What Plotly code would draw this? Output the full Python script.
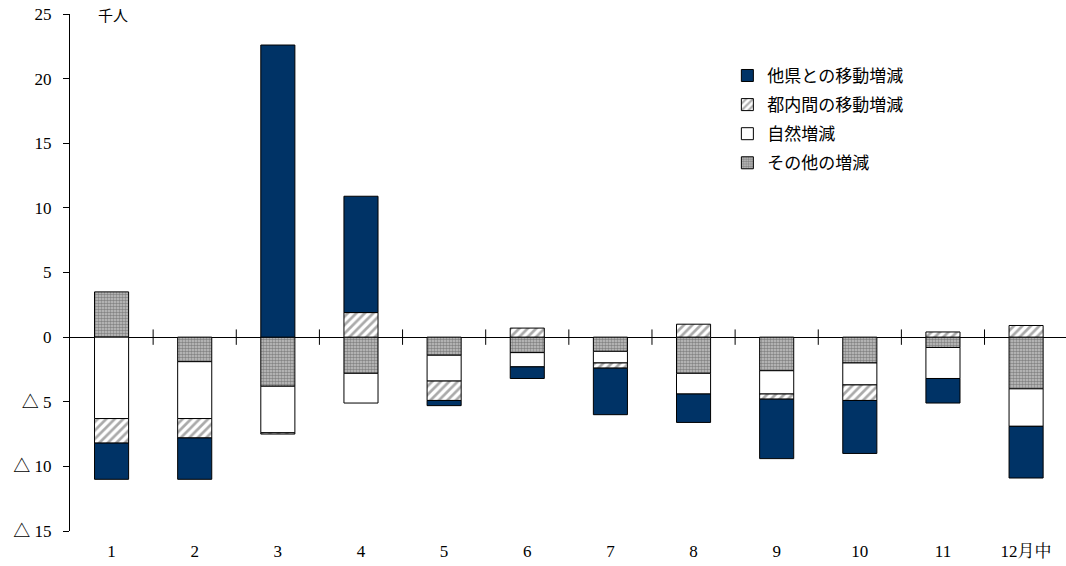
import plotly.graph_objects as go

# 月別人口増減の内訳（千人）
months = [1, 2, 3, 4, 5, 6, 7, 8, 9, 10, 11, 12]
month_labels = ["1", "2", "3", "4", "5", "6", "7", "8", "9", "10", "11", "12月中"]

other_pref = [-2.8, -3.2, 22.6, 9.0, -0.4, -0.9, -3.6, -2.2, -4.6, -4.1, -1.9, -4.0]   # 他県との移動増減
intra_tokyo = [-1.9, -1.5, -0.1, 1.9, -1.5, 0.7, -0.4, 1.0, -0.4, -1.2, 0.4, 0.9]     # 都内間の移動増減
natural = [-6.3, -4.4, -3.6, -2.3, -2.0, -1.1, -0.9, -1.6, -1.8, -1.7, -2.4, -2.9]     # 自然増減
others = [3.5, -1.9, -3.8, -2.8, -1.4, -1.2, -1.1, -2.8, -2.6, -2.0, -0.8, -4.0]       # その他の増減

y_ticks = [-15, -10, -5, 0, 5, 10, 15, 20, 25]
y_ticktext = [("△ " + str(-v)) if v < 0 else str(v) for v in y_ticks]

SERIF = "Liberation Serif, 'Noto Serif CJK JP', 'Noto Sans CJK JP', serif"
JP = "'Noto Sans CJK JP', sans-serif"
BAR_W = 0.41
OUTLINE = dict(color="black", width=1)

fig = go.Figure()

fig.add_trace(go.Bar(
    x=months, y=others, name="その他の増減", width=BAR_W,
    legendgroup="d", legendrank=4,
    marker=dict(color="#9a9a9a", line=OUTLINE,
                pattern=dict(shape=".", fgcolor="#444444", bgcolor="#c4c4c4",
                             size=3, solidity=0.55)),
))
fig.add_trace(go.Bar(
    x=months, y=natural, name="自然増減", width=BAR_W,
    legendgroup="c", legendrank=3,
    marker=dict(color="white", line=OUTLINE),
))
fig.add_trace(go.Bar(
    x=months, y=intra_tokyo, name="都内間の移動増減", width=BAR_W,
    legendgroup="b", legendrank=2,
    marker=dict(color="white", line=OUTLINE,
                pattern=dict(shape="/", fgcolor="#555555", bgcolor="white",
                             size=6, solidity=0.45)),
))
fig.add_trace(go.Bar(
    x=months, y=other_pref, name="他県との移動増減", width=BAR_W,
    legendgroup="a", legendrank=1,
    marker=dict(color="#003366", line=OUTLINE),
))

# 月の区切り目盛（ゼロ線上）
boundaries = [m + 0.5 for m in months[:-1]]
fig.add_trace(go.Scatter(
    x=boundaries, y=[0] * len(boundaries), mode="markers",
    marker=dict(symbol="line-ns-open", size=11, color="black",
                line=dict(color="black", width=1)),
    showlegend=False, hoverinfo="skip",
))

fig.update_layout(
    width=1066, height=566,
    margin=dict(l=70, r=0, t=14, b=35),
    paper_bgcolor="white", plot_bgcolor="white",
    barmode="relative",
    showlegend=True,
    legend=dict(x=0.66, y=0.915, xanchor="left", yanchor="top",
                traceorder="grouped", bgcolor="rgba(0,0,0,0)",
                font=dict(family=JP, size=17, color="black"),
                itemwidth=30, tracegroupgap=4),
    font=dict(family=SERIF, size=16, color="black"),
)

fig.update_xaxes(
    range=[0.5, 12.48], tickvals=months, ticktext=month_labels,
    showgrid=False, zeroline=False, showline=False, ticks="",
    tickfont=dict(family=SERIF, size=17), ticklabelstandoff=8,
)
fig.update_yaxes(
    range=[-15, 25], tickvals=y_ticks, ticktext=y_ticktext,
    showgrid=False, zeroline=True, zerolinecolor="black", zerolinewidth=1,
    showline=True, linecolor="black", linewidth=1,
    ticks="outside", ticklen=6, tickcolor="black", tickwidth=1,
    tickfont=dict(family=SERIF, size=17), ticklabelstandoff=8,
)

fig.add_annotation(
    text="千人", xref="paper", yref="paper", x=0.026, y=1.0,
    xanchor="left", yanchor="middle", showarrow=False,
    font=dict(family=JP, size=15, color="black"),
)

fig.write_html("out.html")
